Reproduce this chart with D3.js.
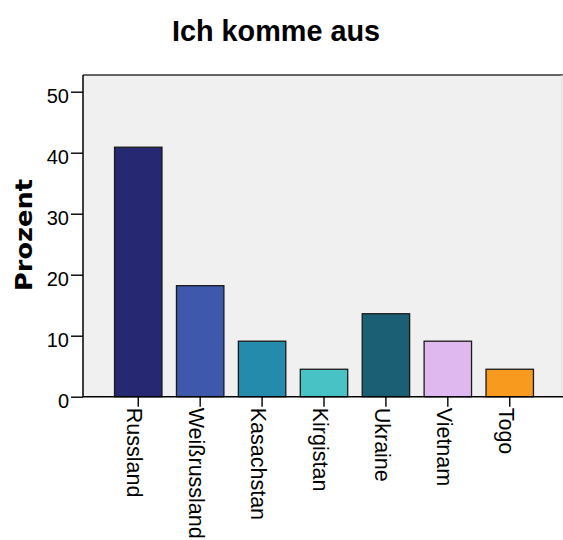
<!DOCTYPE html>
<html>
<head>
<meta charset="utf-8">
<script src="https://cdn.jsdelivr.net/npm/d3@7"></script>
<style>
  html, body { margin: 0; padding: 0; background: #fff; }
  svg { display: block; }
  text { font-family: "Liberation Sans", Arial, sans-serif; fill: #000; }
</style>
</head>
<body>
<svg id="chart" width="563" height="540"></svg>
<script>
// Herkunftsländer (Prozent der Befragten)
const categories = ["Russland", "Weißrussland", "Kasachstan", "Kirgistan", "Ukraine", "Vietnam", "Togo"];
const percents = [40.9, 18.2, 9.1, 4.5, 13.6, 9.1, 4.5];
const barColors = ["#262872", "#3e58ac", "#248bac", "#48c2c5", "#1b5f74", "#dfb8ef", "#f79a1e"];
const yTicks = [0, 10, 20, 30, 40, 50];
const titleText = "Ich komme aus";
const yLabel = "Prozent";

const svg = d3.select("#chart");

// plot frame
const frame = { left: 83, right: 562, top: 75, bottom: 396.7 };

const x = d3.scaleBand()
  .domain(categories)
  .range([107.3, 540.7])
  .paddingInner(0.234)
  .paddingOuter(0.117);

const y = d3.scaleLinear()
  .domain([0, 50])
  .range([frame.bottom, 91.7]);

// background panel
svg.append("rect")
  .attr("x", frame.left).attr("y", frame.top)
  .attr("width", frame.right - frame.left)
  .attr("height", frame.bottom - frame.top)
  .attr("fill", "#f0f0f0");

svg.append("line")
  .attr("x1", frame.left).attr("x2", frame.right + 1)
  .attr("y1", frame.top).attr("y2", frame.top)
  .attr("stroke", "#333").attr("stroke-width", 1.6);

svg.append("line")
  .attr("x1", frame.right).attr("x2", frame.right)
  .attr("y1", frame.top).attr("y2", frame.bottom)
  .attr("stroke", "#d8d8d8").attr("stroke-width", 1);

// bars
svg.append("g")
  .selectAll("rect")
  .data(categories)
  .join("rect")
  .attr("x", d => x(d))
  .attr("y", (d, i) => y(percents[i]))
  .attr("width", x.bandwidth())
  .attr("height", (d, i) => y(0) - y(percents[i]))
  .attr("fill", (d, i) => barColors[i])
  .attr("stroke", "#1a1a1a")
  .attr("stroke-width", 1.3);

// y axis
const yAxis = svg.append("g")
  .attr("transform", `translate(${frame.left},0)`)
  .call(d3.axisLeft(y).tickValues(yTicks).tickSize(12).tickPadding(2).tickSizeOuter(0));
yAxis.select(".domain").remove();
yAxis.append("line")
  .attr("x1", 0).attr("x2", 0)
  .attr("y1", frame.top).attr("y2", frame.bottom)
  .attr("stroke", "#000").attr("stroke-width", 1.5);
yAxis.selectAll(".tick line").attr("stroke", "#000").attr("stroke-width", 1.4);
yAxis.selectAll(".tick text")
  .style("font-size", "20px")
  .attr("fill", "#222")
  .attr("dy", "0.52em");

// x axis
const xAxis = svg.append("g")
  .attr("transform", `translate(0,${frame.bottom})`)
  .call(d3.axisBottom(x).tickSize(10).tickSizeOuter(0));
xAxis.select(".domain").remove();
xAxis.append("line")
  .attr("x1", frame.left).attr("x2", frame.right + 1)
  .attr("y1", 0).attr("y2", 0)
  .attr("stroke", "#000").attr("stroke-width", 1.5);
xAxis.selectAll(".tick line").attr("stroke", "#000").attr("stroke-width", 1.4);
xAxis.selectAll(".tick text")
  .style("font-size", "21.5px")
  .attr("fill", "#111")
  .attr("text-anchor", "start")
  .attr("dy", null)
  .attr("x", 0)
  .attr("y", 0)
  .attr("transform", "translate(0,11) rotate(90) translate(0,10.8)");

// axis title
svg.append("text")
  .attr("transform", "translate(32,235) rotate(-90)")
  .attr("text-anchor", "middle")
  .attr("textLength", 112)
  .attr("lengthAdjust", "spacingAndGlyphs")
  .style("font-size", "23px")
  .style("font-weight", "bold")
  .style("font-family", "'DejaVu Sans', sans-serif")
  .text(yLabel);

// chart title
svg.append("text")
  .attr("x", 276).attr("y", 41)
  .attr("text-anchor", "middle")
  .attr("textLength", 208)
  .attr("lengthAdjust", "spacingAndGlyphs")
  .style("font-size", "30px")
  .style("font-weight", "bold")
  .text(titleText);
</script>
</body>
</html>
